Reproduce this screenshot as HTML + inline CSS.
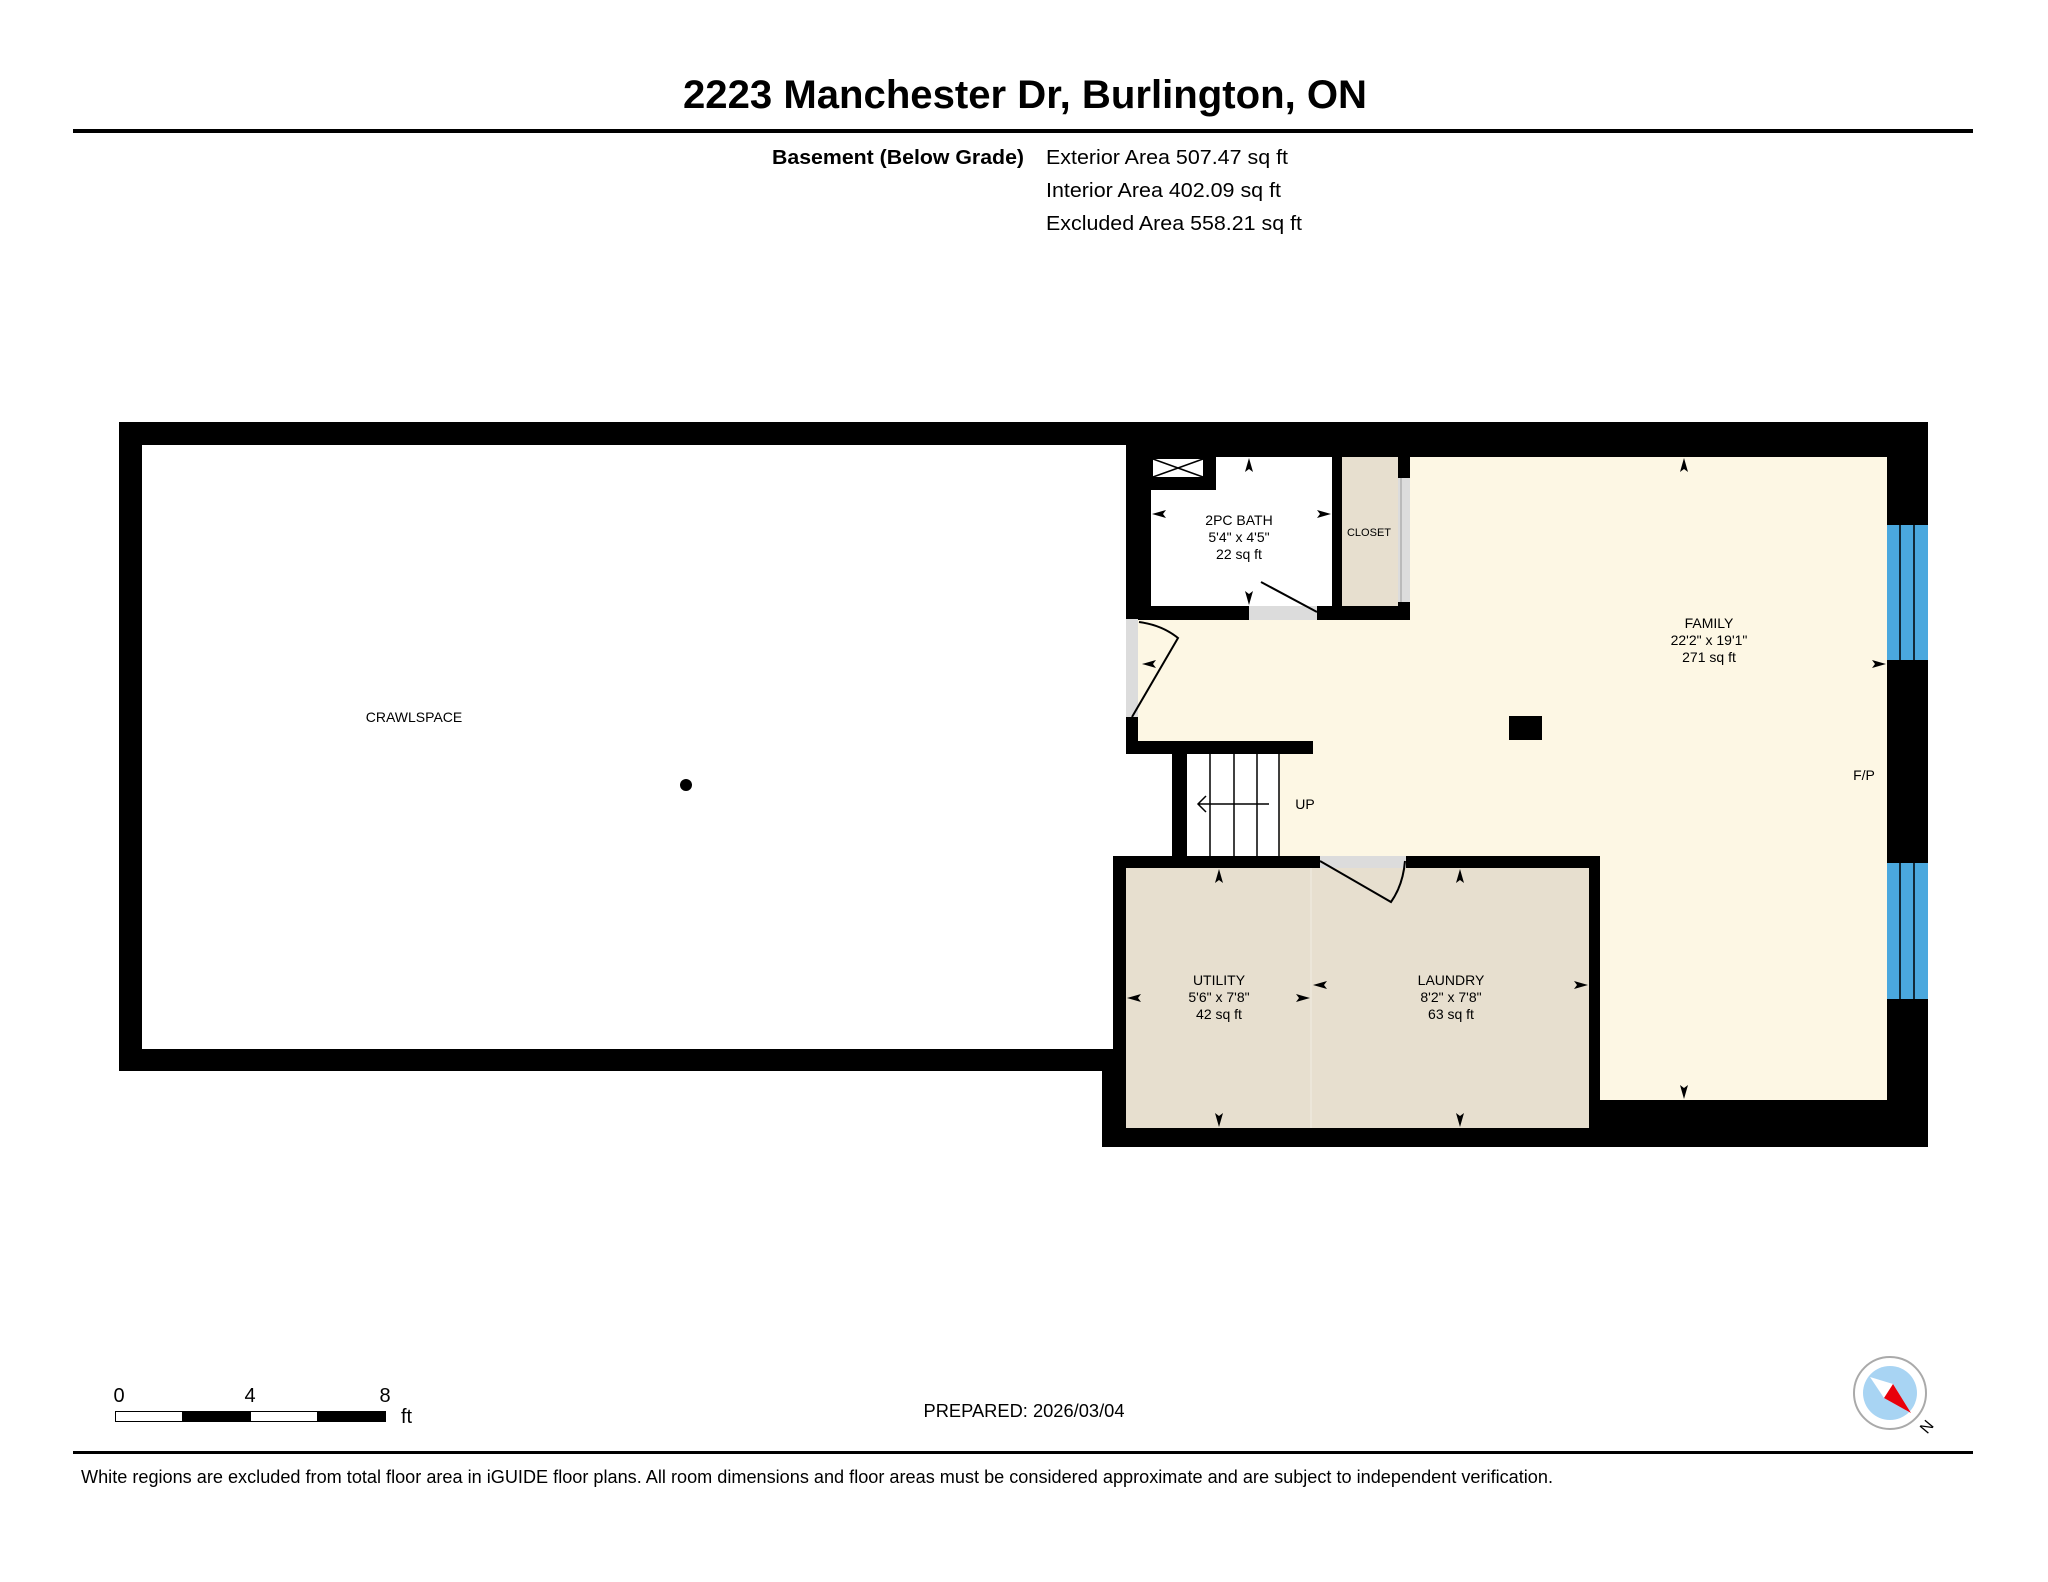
<!DOCTYPE html>
<html><head><meta charset="utf-8"><style>
html,body{margin:0;padding:0;background:#fff;}
svg{display:block;}
text{font-family:"Liberation Sans",Arial,sans-serif;fill:#000;}
</style></head><body>
<svg width="2048" height="1582" viewBox="0 0 2048 1582" xmlns="http://www.w3.org/2000/svg">
<rect width="2048" height="1582" fill="#fff"/>
<text x="1025" y="108" font-size="40" font-weight="bold" text-anchor="middle" textLength="684" lengthAdjust="spacingAndGlyphs">2223 Manchester Dr, Burlington, ON</text>
<rect x="73" y="129" width="1900" height="4" fill="#000"/>
<text x="1024" y="164" font-size="20" font-weight="bold" text-anchor="end" textLength="252" lengthAdjust="spacingAndGlyphs">Basement (Below Grade)</text>
<text x="1046" y="164" font-size="20" textLength="242" lengthAdjust="spacingAndGlyphs">Exterior Area 507.47 sq ft</text>
<text x="1046" y="197" font-size="20" textLength="235" lengthAdjust="spacingAndGlyphs">Interior Area 402.09 sq ft</text>
<text x="1046" y="230" font-size="20" textLength="256" lengthAdjust="spacingAndGlyphs">Excluded Area 558.21 sq ft</text>

<!-- walls -->
<rect x="119" y="422" width="1010" height="649" fill="#000"/>
<rect x="1102" y="422" width="826" height="725" fill="#000"/>
<!-- crawlspace -->
<polygon points="142,445 1126,445 1126,754 1172,754 1172,856 1113,856 1113,1049 142,1049" fill="#fff"/>
<!-- family -->
<polygon points="1410,457 1887,457 1887,1100 1600,1100 1600,856 1279,856 1279,754 1313,754 1313,741 1138,741 1138,620 1410,620" fill="#fdf7e4"/>
<!-- left door strip -->
<rect x="1126" y="619" width="12" height="98" fill="#dcdcdc"/>
<!-- bath -->
<rect x="1151" y="457" width="181" height="149" fill="#fff"/>
<rect x="1151" y="457" width="65" height="33" fill="#000"/>
<rect x="1153" y="459" width="50" height="18" fill="#fff"/>
<path d="M1153 459 L1203 477 M1203 459 L1153 477" stroke="#000" stroke-width="1.5"/>
<rect x="1249" y="606" width="68" height="14" fill="#dcdcdc"/>
<!-- closet -->
<rect x="1342" y="457" width="56" height="149" fill="#e7dfcf"/>
<rect x="1398" y="478" width="12" height="124" fill="#dcdcdc"/>
<line x1="1401" y1="478" x2="1401" y2="602" stroke="#999" stroke-width="1"/>
<!-- stairs -->
<rect x="1187" y="754" width="92" height="102" fill="#fff"/>
<path d="M1210 754V856 M1234 754V856 M1257 754V856 M1279 754V856" stroke="#000" stroke-width="1.5"/>
<path d="M1269 804H1198 M1206 796L1198 804L1206 812" stroke="#000" stroke-width="1.5" fill="none"/>
<!-- utility/laundry -->
<rect x="1126" y="868" width="463" height="260" fill="#e7dfcf"/>
<line x1="1311" y1="868" x2="1311" y2="1128" stroke="#ece6d9" stroke-width="2"/>
<rect x="1320" y="856" width="86" height="12" fill="#dcdcdc"/>
<!-- windows -->
<rect x="1887" y="525" width="41" height="135" fill="#4aa8de"/>
<rect x="1887" y="863" width="41" height="136" fill="#4aa8de"/>
<path d="M1900 525V660 M1914 525V660 M1900 863V999 M1914 863V999" stroke="#000" stroke-width="1.5"/>
<!-- pillar -->
<rect x="1509" y="716" width="33" height="24" fill="#000"/>
<!-- doors -->
<path d="M1261 582 L1317 612" stroke="#000" stroke-width="2"/>
<path d="M1132 717 L1178 638 Q1162 625 1139 622" stroke="#000" stroke-width="2" fill="none"/>
<path d="M1320 861 L1391 902 Q1403 885 1405 861" stroke="#000" stroke-width="2" fill="none"/>
<!-- crawl dot -->
<circle cx="686" cy="785" r="6" fill="#000"/>

<!-- arrows -->
<g fill="#000">
<polygon points="1684,458 1680,472 1684,469 1688,472"/>
<polygon points="1684,1099 1680,1085 1684,1088 1688,1085"/>
<polygon points="1886,664 1872,660 1875,664 1872,668"/>
<polygon points="1142,664 1156,660 1153,664 1156,668"/>
<polygon points="1249,458 1245,472 1249,469 1253,472"/>
<polygon points="1249,605 1245,591 1249,594 1253,591"/>
<polygon points="1152,514 1166,510 1163,514 1166,518"/>
<polygon points="1331,514 1317,510 1320,514 1317,518"/>
<polygon points="1219,869 1215,883 1219,880 1223,883"/>
<polygon points="1219,1127 1215,1113 1219,1116 1223,1113"/>
<polygon points="1127,998 1141,994 1138,998 1141,1002"/>
<polygon points="1310,998 1296,994 1299,998 1296,1002"/>
<polygon points="1460,869 1456,883 1460,880 1464,883"/>
<polygon points="1460,1127 1456,1113 1460,1116 1464,1113"/>
<polygon points="1313,985 1327,981 1324,985 1327,989"/>
<polygon points="1588,985 1574,981 1577,985 1574,989"/>
</g>

<!-- labels -->
<g font-size="14" text-anchor="middle">
<text x="1709" y="628">FAMILY</text>
<text x="1709" y="645">22'2" x 19'1"</text>
<text x="1709" y="662">271 sq ft</text>
<text x="1864" y="780">F/P</text>
<text x="1305" y="809">UP</text>
<text x="1239" y="525">2PC BATH</text>
<text x="1239" y="542">5'4" x 4'5"</text>
<text x="1239" y="559">22 sq ft</text>
<text x="1369" y="536" font-size="11">CLOSET</text>
<text x="1219" y="985">UTILITY</text>
<text x="1219" y="1002">5'6" x 7'8"</text>
<text x="1219" y="1019">42 sq ft</text>
<text x="1451" y="985">LAUNDRY</text>
<text x="1451" y="1002">8'2" x 7'8"</text>
<text x="1451" y="1019">63 sq ft</text>
<text x="414" y="722">CRAWLSPACE</text>
</g>

<!-- scale bar -->
<g font-size="20">
<text x="119" y="1402" text-anchor="middle">0</text>
<text x="250" y="1402" text-anchor="middle">4</text>
<text x="385" y="1402" text-anchor="middle">8</text>
<text x="401" y="1423">ft</text>
</g>
<rect x="115.5" y="1411.5" width="270" height="10" fill="#fff" stroke="#000" stroke-width="1"/>
<rect x="182" y="1411" width="69" height="11" fill="#000"/>
<rect x="317" y="1411" width="69" height="11" fill="#000"/>
<text x="1024" y="1417" font-size="18" text-anchor="middle" textLength="201" lengthAdjust="spacingAndGlyphs">PREPARED: 2026/03/04</text>

<!-- compass -->
<circle cx="1890" cy="1393" r="36" fill="#fff" stroke="#aaa" stroke-width="2"/>
<circle cx="1890" cy="1393" r="27" fill="#a8d4f3"/>
<polygon points="1870,1377 1893,1384 1911,1413 1884,1398" fill="#fff"/>
<polygon points="1893,1384 1911,1413 1884,1398" fill="#e8000b"/>
<text x="1927" y="1432" font-size="16" text-anchor="middle" transform="rotate(-50 1927 1427)">N</text>

<rect x="73" y="1451" width="1900" height="3" fill="#000"/>
<text x="81" y="1483" font-size="18" textLength="1472" lengthAdjust="spacingAndGlyphs">White regions are excluded from total floor area in iGUIDE floor plans. All room dimensions and floor areas must be considered approximate and are subject to independent verification.</text>
</svg>
</body></html>
